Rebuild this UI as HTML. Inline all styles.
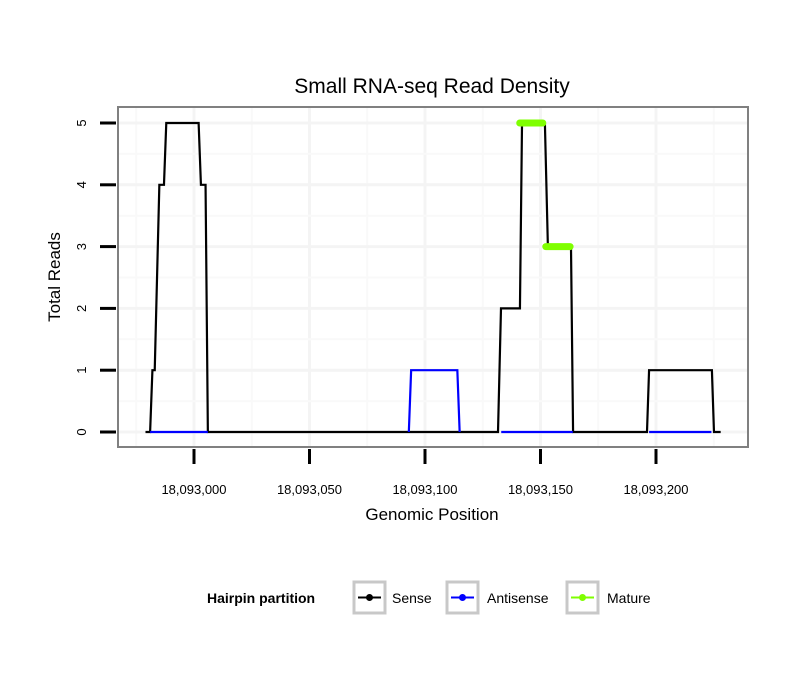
<!DOCTYPE html>
<html><head><meta charset="utf-8"><style>
body{margin:0;background:#fff;font-family:"Liberation Sans",sans-serif}
svg text{font-family:"Liberation Sans",sans-serif}
</style></head><body>
<svg width="810" height="690">
<defs><clipPath id="pc"><rect x="119" y="108" width="628" height="338"/></clipPath></defs>
<text x="432" y="93" text-anchor="middle" font-size="21">Small RNA-seq Read Density</text>
<g id="grid" clip-path="url(#pc)"></g>
<rect x="118" y="107" width="630" height="340" fill="none" stroke="#808080" stroke-width="2"/>
<g id="marks"></g>
<g id="axes"></g>
<text x="432" y="520" text-anchor="middle" font-size="17">Genomic Position</text>
<text transform="translate(60,277) rotate(-90)" text-anchor="middle" font-size="17">Total Reads</text>
<g>
<text x="207" y="603" font-size="14" font-weight="bold">Hairpin partition</text>
<g>
<rect x="354" y="582" width="31" height="31" fill="#fff" stroke="#c8c8c8" stroke-width="3"/>
<line x1="358" y1="597.5" x2="381" y2="597.5" stroke="#000" stroke-width="2"/><circle cx="369.5" cy="597.5" r="3.5" fill="#000"/>
<text x="392" y="603" font-size="14">Sense</text></g>
<g>
<rect x="447" y="582" width="31" height="31" fill="#fff" stroke="#c8c8c8" stroke-width="3"/>
<line x1="451" y1="597.5" x2="474" y2="597.5" stroke="#00f" stroke-width="2"/><circle cx="462.5" cy="597.5" r="3.5" fill="#00f"/>
<text x="487" y="603" font-size="14">Antisense</text></g>
<g>
<rect x="567" y="582" width="31" height="31" fill="#fff" stroke="#c8c8c8" stroke-width="3"/>
<line x1="571" y1="597.5" x2="594" y2="597.5" stroke="#7fff00" stroke-width="2"/><circle cx="582.5" cy="597.5" r="3.5" fill="#7fff00"/>
<text x="607" y="603" font-size="14">Mature</text></g>
</g>
</svg>
<script>
const BASE = 18093000;
const senseX = [-21,-19,-18,-17,-15,-13,-12,2,3,5,6,131.6,132.9,141.1,142,151.9,153.2,163.2,164.1,196.1,197,224.2,225.1,228];
const senseY = [0,0,1,1,4,4,5,5,4,4,0,0,2,2,5,5,3,3,0,0,1,1,0,0];
const antiSegX = [[-19,6],[93,94,114,115],[133,164],[197,224]];
const antiSegY = [[0,0],[0,1,1,0],[0,0],[0,0]];
const matureX = [[141,151],[152.3,162.8]];
const matureY = [[5,5],[3,3]];
const xTicks = [0,50,100,150,200];
const xTickLabels = ["18,093,000","18,093,050","18,093,100","18,093,150","18,093,200"];
const yTicks = [0,1,2,3,4,5];

const X = v => 194 + v*2.31;
const Y = v => 432 - v*61.8;
const NS="http://www.w3.org/2000/svg";
function mk(t,a,p){const e=document.createElementNS(NS,t);for(const k in a)e.setAttribute(k,a[k]);p.appendChild(e);return e;}
const grid=document.getElementById('grid'),marks=document.getElementById('marks'),axes=document.getElementById('axes');
for(let v=-25;v<=225;v+=25){const g=mk('line',{x1:X(v),x2:X(v),y1:108,y2:446,stroke:v%50===0?'#f4f4f4':'#f9f9f9','stroke-width':v%50===0?3:2},grid);

}
for(let v=0;v<=5.5;v+=0.5){const g=mk('line',{x1:119,x2:747,y1:Y(v),y2:Y(v),stroke:v%1===0?'#f4f4f4':'#f9f9f9','stroke-width':v%1===0?3:2},grid);

}
function pts(xs,ys){return xs.map((x,i)=>X(x)+','+Y(ys[i])).join(' ');}
const s=mk('polyline',{points:pts(senseX,senseY),fill:'none',stroke:'#000','stroke-width':2.2},marks);


antiSegX.forEach((xs,i)=>{const a=mk('polyline',{points:pts(xs,antiSegY[i]),fill:'none',stroke:'#00f','stroke-width':2.2},marks);

});
matureX.forEach((xs,i)=>{const m=mk('polyline',{points:pts(xs,matureY[i]),fill:'none',stroke:'#7fff00','stroke-width':7,'stroke-linecap':'round'},marks);

});
xTicks.forEach((v,i)=>{const t=mk('line',{x1:X(v),x2:X(v),y1:449,y2:464,stroke:'#000','stroke-width':3},axes);


const l=mk('text',{x:X(v),y:494,'text-anchor':'middle','font-size':13},axes);l.textContent=xTickLabels[i];

});
yTicks.forEach(v=>{const t=mk('line',{x1:100,x2:116,y1:Y(v),y2:Y(v),stroke:'#000','stroke-width':3},axes);


const l=mk('text',{transform:`translate(86,${Y(v)}) rotate(-90)`,'text-anchor':'middle','font-size':13},axes);l.textContent=v;

});
</script>
</body></html>
